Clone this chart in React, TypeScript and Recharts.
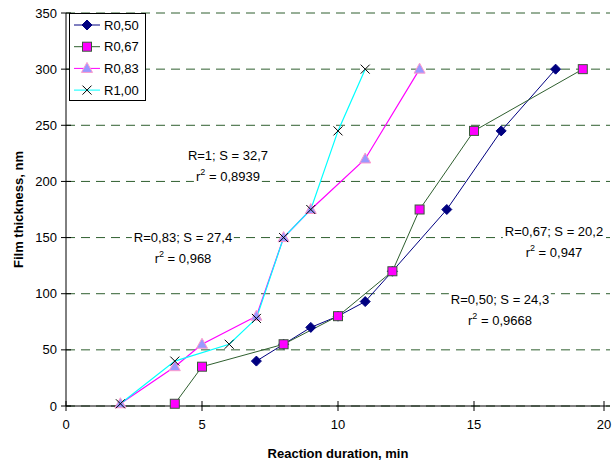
import { LineChart, Line, XAxis, YAxis, CartesianGrid } from "recharts"

const FONT = '"Liberation Sans", Arial, sans-serif'

// reaction duration (min) / film thickness (nm) per series
const time050 = [7, 8, 9, 10, 11, 12, 14, 16, 18]
const thick050 = [40, 55, 70, 80, 93, 120, 175, 245, 300]
const time067 = [4, 5, 8, 10, 12, 13, 15, 19]
const thick067 = [2, 35, 55, 80, 120, 175, 245, 300]
const time083 = [2, 4, 5, 7, 8, 9, 11, 13]
const thick083 = [2, 35, 55, 80, 150, 175, 220, 300]
const time100 = [2, 4, 6, 7, 8, 9, 10, 11]
const thick100 = [2, 40, 55, 78, 150, 175, 245, 300]

const xTicks = [0, 5, 10, 15, 20]
const yTicks = [0, 50, 100, 150, 200, 250, 300, 350]

const seriesNames = ["R0,50", "R0,67", "R0,83", "R1,00"]

const toPoints = (xs: number[], ys: number[]) => xs.map((t, i) => ({ t, h: ys[i] }))

const data050 = toPoints(time050, thick050)
const data067 = toPoints(time067, thick067)
const data083 = toPoints(time083, thick083)
const data100 = toPoints(time100, thick100)

const Diamond = ({ cx, cy }: any) => (
  <path d={`M${cx},${cy - 5}L${cx + 5},${cy}L${cx},${cy + 5}L${cx - 5},${cy}Z`} fill="#000080" stroke="#000080" />
)
const Square = ({ cx, cy }: any) => (
  <rect x={cx - 4.5} y={cy - 4.5} width={9} height={9} fill="#ff00ff" stroke="#3a5a3a" strokeWidth={1} />
)
const Triangle = ({ cx, cy }: any) => (
  <path d={`M${cx},${cy - 6}L${cx + 5.5},${cy + 4}L${cx - 5.5},${cy + 4}Z`} fill="#9999ff" stroke="#ff99cc" strokeWidth={1} />
)
const Cross = ({ cx, cy }: any) => (
  <path d={`M${cx - 4.5},${cy - 4.5}L${cx + 4.5},${cy + 4.5}M${cx + 4.5},${cy - 4.5}L${cx - 4.5},${cy + 4.5}`} stroke="#000" strokeWidth={1} />
)

const legendItems = [
  { name: seriesNames[0], color: "#000080", Marker: Diamond },
  { name: seriesNames[1], color: "#2f5f2f", Marker: Square },
  { name: seriesNames[2], color: "#ff00ff", Marker: Triangle },
  { name: seriesNames[3], color: "#00ffff", Marker: Cross },
]

const LegendBox = () => (
  <svg width={77} height={88} style={{ position: "absolute", left: 69, top: 13, display: "block" }}>
    <rect x={0.5} y={0.5} width={76} height={87} fill="#fff" stroke="#000" />
    {legendItems.map((it, i) => {
      const y = 12 + i * 21.7
      return (
        <g key={it.name}>
          <line x1={5} x2={31} y1={y} y2={y} stroke={it.color} strokeWidth={1} />
          <it.Marker cx={18} cy={y} />
          <text x={35} y={y} dy={4.5} fontSize={13} fontFamily={FONT} fill="#000">{it.name}</text>
        </g>
      )
    })}
  </svg>
)

const YTick = ({ x, y, payload }: any) => (
  <g>
    <line x1={x - 5} x2={x + 5} y1={y} y2={y} stroke="#000" />
    <text x={x - 9} y={y} dy={4.5} textAnchor="end" fontSize={13} fontFamily={FONT} fill="#000">{payload.value}</text>
  </g>
)

const XTick = ({ x, y, payload }: any) => (
  <g>
    <line x1={x} x2={x} y1={y - 5} y2={y + 5} stroke="#000" />
    <text x={x} y={y + 23} textAnchor="middle" fontSize={13} fontFamily={FONT} fill="#000">{payload.value}</text>
  </g>
)

const notes = [
  { head: "R=1; S = 32,7", r2: "0,8939", left: 228, top: 145 },
  { head: "R=0,83; S = 27,4", r2: "0,968", left: 183, top: 227 },
  { head: "R=0,67; S = 20,2", r2: "0,947", left: 554, top: 221 },
  { head: "R=0,50; S = 24,3", r2: "0,9668", left: 500, top: 289 },
]

const lineStyle = { background: "#fff", padding: "0 2px" }

export default function App() {
  return (
    <div style={{ position: "absolute", left: 0, top: 0, width: 612, height: 462, background: "#fff", fontFamily: FONT }}>
      <LineChart width={612} height={462} margin={{ top: 13, right: 2, bottom: 0, left: 0 }}>
        <CartesianGrid horizontal vertical={false} stroke="#2f5f2f" strokeDasharray="9 6" />
        <XAxis
          type="number"
          dataKey="t"
          domain={[0, 20]}
          ticks={xTicks}
          height={56}
          tickSize={0}
          tickMargin={0}
          tickLine={false}
          axisLine={{ stroke: "#000" }}
          tick={<XTick />}
          label={{ value: "Reaction duration, min", position: "insideBottom", offset: 4, fontSize: 13, fontWeight: "bold", fill: "#000", fontFamily: FONT }}
        />
        <YAxis
          type="number"
          dataKey="h"
          domain={[0, 350]}
          ticks={yTicks}
          width={66}
          tickSize={0}
          tickMargin={0}
          tickLine={false}
          axisLine={{ stroke: "#000" }}
          tick={<YTick />}
          label={{ value: "Film thickness, nm", angle: -90, position: "insideLeft", offset: 18, fontSize: 13, fontWeight: "bold", fill: "#000", fontFamily: FONT, style: { textAnchor: "middle" } }}
        />
        <Line data={data050} dataKey="h" name={seriesNames[0]} stroke="#000080" strokeWidth={1} dot={<Diamond />} isAnimationActive={false} />
        <Line data={data067} dataKey="h" name={seriesNames[1]} stroke="#2f5f2f" strokeWidth={1} dot={<Square />} isAnimationActive={false} />
        <Line data={data083} dataKey="h" name={seriesNames[2]} stroke="#ff00ff" strokeWidth={1.2} dot={<Triangle />} isAnimationActive={false} />
        <Line data={data100} dataKey="h" name={seriesNames[3]} stroke="#00ffff" strokeWidth={1.2} dot={<Cross />} isAnimationActive={false} />
      </LineChart>
      <LegendBox />
      {notes.map((n) => (
        <div
          key={n.head}
          style={{
            position: "absolute",
            left: n.left,
            top: n.top,
            transform: "translateX(-50%)",
            fontSize: 13,
            lineHeight: "21px",
            textAlign: "center",
            whiteSpace: "nowrap",
            color: "#000",
          }}
        >
          <div><span style={lineStyle}>{n.head}</span></div>
          <div>
            <span style={lineStyle}>
              r<sup style={{ fontSize: 9, verticalAlign: "top", lineHeight: "12px" }}>2</sup> = {n.r2}
            </span>
          </div>
        </div>
      ))}
    </div>
  )
}
